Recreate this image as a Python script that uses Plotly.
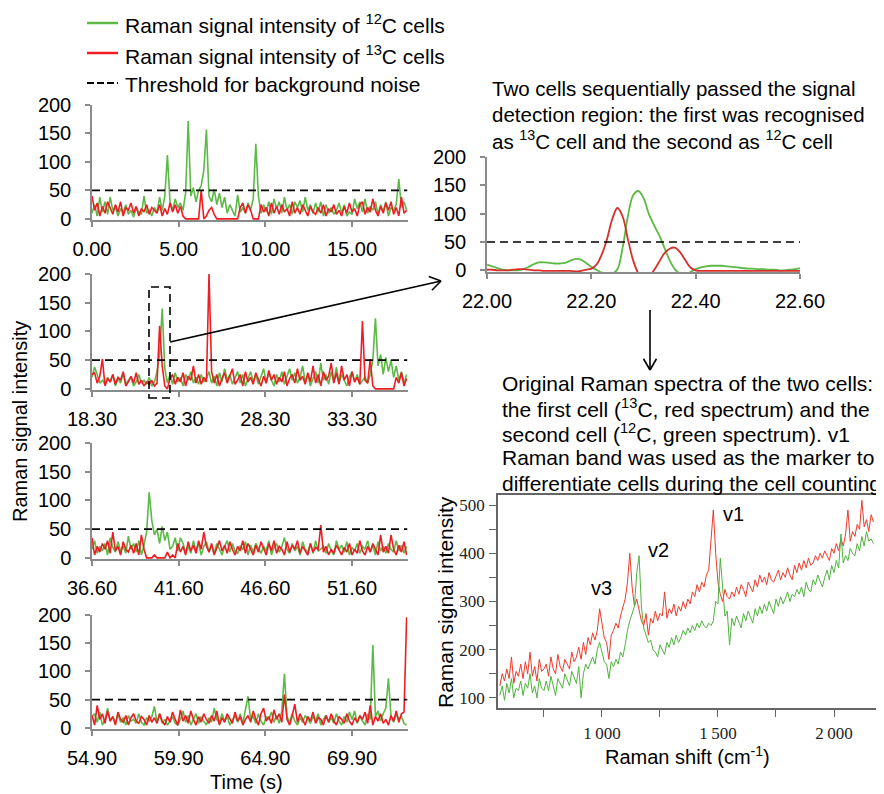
import math
import plotly.graph_objects as go

# reference canvas size and page offset (the page body adds an 8 px margin)
REF_W, REF_H = 884, 794
OFF = 8
W, H = REF_W - OFF, REF_H - OFF
FONT = "Liberation Sans, Arial, sans-serif"
SERIF = "Liberation Serif, Times New Roman, serif"
GREEN = "#5cb946"
RED = "#ee1d23"
GRAY = "#8a8a8a"

# ---------------- data ----------------
panel_starts = [0.00, 18.30, 36.60, 54.90]
sample_step = 0.15
threshold = 50

green_1 = [10,25,5,38,12,30,8,38,15,22,
           5,18,10,25,8,15,3,20,12,8,
           40,10,15,5,20,12,38,15,40,112,
           30,15,35,20,28,15,45,172,40,55,
           30,50,58,85,157,40,30,52,25,45,
           20,38,10,25,15,5,42,12,20,10,
           28,15,35,132,40,10,25,12,30,8,
           35,18,30,10,38,15,25,8,30,20,
           32,12,38,15,25,10,28,12,30,5,
           25,10,20,8,15,28,10,25,5,12,
           8,35,18,30,12,35,10,22,15,30,
           8,25,12,30,5,20,15,25,70,20,
           30,15]
red_1 = [40,15,28,5,22,10,30,18,8,25,
         12,30,5,20,15,28,10,22,5,18,
         12,25,8,20,15,10,25,5,18,8,
         28,12,25,10,22,5,0,0,0,0,
         0,0,50,0,5,15,20,8,0,0,
         0,0,0,0,0,0,0,20,28,10,
         25,15,0,0,0,25,12,20,5,28,
         10,22,8,25,12,18,5,30,10,20,
         8,25,15,5,22,12,8,20,10,25,
         5,18,12,25,8,15,5,22,10,28,
         12,18,5,25,30,8,20,12,35,15,
         5,22,10,28,15,30,8,20,5,38,
         10,15]
green_2 = [20,38,25,10,15,8,20,12,25,5,
           18,10,28,8,15,20,5,12,25,10,
           15,8,20,5,12,30,60,140,35,10,
           25,8,28,12,20,5,25,15,30,10,
           20,8,25,12,18,30,10,22,5,28,
           12,35,15,25,8,20,30,10,25,5,
           18,30,12,25,8,20,35,10,28,15,
           5,25,12,30,8,22,35,15,28,10,
           20,40,12,25,5,18,30,10,45,15,
           25,8,30,12,38,10,25,15,5,20,
           30,12,25,8,15,20,10,25,50,123,
           40,60,25,55,30,50,20,40,15,30,
           10,25]
red_2 = [25,28,10,22,52,5,18,12,25,8,
         20,15,30,5,12,22,10,28,8,15,
         5,12,8,15,5,10,110,40,5,0,
         18,25,8,20,12,28,5,22,15,40,
         10,25,8,20,12,200,30,10,25,5,
         18,28,10,22,35,8,15,25,5,30,
         12,20,8,28,15,5,22,10,32,15,
         25,8,20,12,30,5,18,25,10,35,
         15,22,8,28,12,40,10,25,5,30,
         15,22,45,10,28,8,40,15,25,5,
         30,12,20,8,118,15,10,52,5,0,
         0,0,0,0,0,0,0,20,10,28,
         5,18]
green_3 = [15,30,8,20,12,25,5,35,18,10,
           28,12,20,8,38,15,25,10,30,5,
           22,45,114,65,40,50,25,55,30,45,
           15,20,35,12,35,25,10,20,8,30,
           12,25,5,20,28,10,22,8,25,15,
           5,20,30,10,25,12,8,20,15,28,
           5,22,10,25,15,8,20,12,30,5,
           18,25,10,20,35,15,8,25,12,20,
           5,28,15,10,25,8,30,12,15,20,
           8,25,12,5,30,15,22,10,28,5,
           18,12,25,8,20,15,30,10,22,5,
           28,12,20,8,25,15,10,30,12,22,
           8,20]
red_3 = [35,5,20,10,25,15,30,8,45,12,
         20,5,28,15,10,22,8,25,5,40,
         15,0,0,0,5,0,0,0,0,10,
         0,5,0,25,10,20,5,28,12,22,
         8,30,15,45,20,10,25,5,18,30,
         12,22,8,28,15,5,20,12,30,8,
         25,15,5,22,10,28,18,5,25,12,
         30,8,20,15,5,28,10,22,15,30,
         8,20,12,5,25,10,18,15,57,10,
         20,5,15,8,22,12,5,18,10,25,
         5,15,8,30,12,5,20,10,25,15,
         5,40,10,20,8,40,15,5,22,10,
         28,5]
green_4 = [20,25,10,28,5,15,35,12,20,8,
           25,10,18,5,22,12,15,8,25,10,
           5,18,12,20,38,10,25,8,15,5,
           12,20,8,5,15,30,10,22,5,15,
           25,8,20,12,5,18,10,35,15,8,
           25,12,20,5,15,22,10,25,8,30,
           56,15,20,8,25,12,5,20,15,28,
           10,22,8,30,96,20,10,25,12,5,
           18,10,22,15,8,20,12,25,5,15,
           22,10,18,8,25,12,5,20,10,28,
           15,30,8,20,12,5,25,15,147,20,
           30,12,25,35,88,20,10,25,15,20,
           8,5]
red_4 = [22,5,40,15,25,8,30,12,20,5,
         28,15,10,22,5,18,25,12,8,20,
         15,5,22,10,18,8,25,12,5,20,
         10,28,15,5,32,12,22,8,30,15,
         5,20,10,25,15,8,22,12,30,5,
         18,10,25,15,8,28,12,20,5,15,
         22,10,30,15,5,25,35,12,20,8,
         32,15,25,10,59,15,5,22,42,10,
         25,15,5,20,12,28,8,18,15,5,
         22,10,25,12,5,20,15,8,25,12,
         5,18,10,22,15,28,8,40,5,20,
         12,25,8,15,5,22,12,30,10,25,
         28,196]

# zoomed window 22.00 - 22.60 s
zoom_start = 22.00
zoom_step = 0.01
green_zoom = [10,7,4,1,0,0,0,2,6,11,
              14,14,13,12,12,13,17,20,19,13,
              6,1,-4,-8,-6,2,40,95,132,140,
              128,100,80,62,40,18,2,-6,-8,-3,
              2,5,7,8,8,8,7,6,5,4,
              3,3,2,2,1,1,0,0,1,2,
              4]
red_zoom = [1,1,0,0,0,1,2,2,1,0,
            0,-1,-1,-1,-1,-1,-1,-2,-1,1,
            3,10,28,55,90,110,95,55,18,-5,
            -15,-12,0,15,30,38,40,32,18,5,
            0,-1,-1,-1,-1,-1,-1,-1,-1,-1,
            -1,-1,-1,-1,-1,-1,-1,-1,-1,-1,
            -1]

# Raman spectra (shift start 560 cm-1, every 10 cm-1)
shift_start = 560
shift_step = 10
spec_13C = [125,150,135,160,140,185,130,155,145,170,
            140,175,150,195,145,165,135,180,155,160,
            170,145,185,160,150,190,165,155,180,170,
            160,195,175,185,205,180,215,190,225,210,
            235,220,240,285,250,225,215,180,230,240,
            255,245,270,290,305,340,400,330,290,305,
            280,260,250,275,230,265,255,280,260,275,
            270,320,265,285,275,295,270,290,280,300,
            285,305,295,320,310,335,320,340,330,355,
            365,420,490,400,340,315,300,325,310,305,
            320,310,330,315,335,325,310,340,330,320,
            345,330,355,340,350,335,360,345,340,355,
            365,345,360,350,370,355,345,375,360,380,
            365,385,370,390,375,380,395,385,400,390,
            405,395,385,410,400,420,405,430,415,440,
            490,425,445,435,460,450,510,455,470,445,
            480,465]
spec_12C = [105,125,95,130,110,140,100,120,115,135,
            105,130,120,150,110,125,100,140,120,115,
            135,115,145,125,105,140,130,120,150,135,
            125,155,140,130,165,100,150,170,160,175,
            185,170,200,215,195,175,170,140,175,165,
            180,170,195,185,210,240,260,275,290,360,
            395,290,245,230,215,220,200,195,185,210,
            200,190,215,205,225,210,230,215,225,240,
            230,245,235,250,240,255,245,260,250,245,
            255,250,260,300,295,390,330,270,280,210,
            265,250,270,255,245,275,260,280,265,255,
            285,270,290,275,295,280,300,285,275,305,
            290,310,295,305,320,300,315,310,325,315,
            330,310,340,325,320,345,335,355,340,330,
            350,365,345,375,360,385,370,440,380,395,
            385,410,400,395,420,405,435,415,445,425,
            430,420]

band_labels = ["v3", "v2", "v1"]
band_x = [996, 1242, 1565]
band_y = [328, 407, 482]

time_tick_offsets = [0, 5, 10, 15]

# ---------------- layout helpers (reference pixel -> paper) ----------------
def px(x):
    return (x - OFF) / W

def py(y):
    return 1 - (y - OFF) / H

fig = go.Figure()

panels = [(green_1, red_1), (green_2, red_2), (green_3, red_3), (green_4, red_4)]
panel_px_y = [(105, 219), (274, 389), (443, 558), (615, 728)]
X0, X1 = 92, 407.5
span = 18.2

tick_font = dict(family=FONT, size=20, color="black")
layout_axes = {}
for k, ((g, r), t0, (ytop, ybot)) in enumerate(zip(panels, panel_starts, panel_px_y)):
    n = k + 1
    xa = "x" if n == 1 else f"x{n}"
    ya = "y" if n == 1 else f"y{n}"
    tg = [t0 + sample_step * i for i in range(len(g))]
    tr = [t0 + sample_step * i for i in range(len(r))]
    fig.add_trace(go.Scatter(x=tg, y=g, mode="lines", line=dict(color=GREEN, width=1.6),
                             xaxis=xa, yaxis=ya, hoverinfo="skip"))
    fig.add_trace(go.Scatter(x=tr, y=r, mode="lines", line=dict(color=RED, width=1.6),
                             xaxis=xa, yaxis=ya, hoverinfo="skip"))
    fig.add_trace(go.Scatter(x=[t0, t0 + span], y=[threshold, threshold], mode="lines",
                             line=dict(color="black", width=1.6, dash="8px,5px"),
                             xaxis=xa, yaxis=ya, hoverinfo="skip"))
    ticks = [t0 + o for o in time_tick_offsets]
    xname = "xaxis" if n == 1 else f"xaxis{n}"
    yname = "yaxis" if n == 1 else f"yaxis{n}"
    layout_axes[xname] = dict(domain=[px(X0), px(X1)], range=[t0, t0 + span], anchor=ya,
                              tickvals=ticks, ticktext=[f"{v:.2f}" for v in ticks],
                              showline=True, linecolor=GRAY, linewidth=1.5,
                              ticks="outside", ticklen=5, tickcolor=GRAY, tickwidth=1.5,
                              showgrid=False, zeroline=False, automargin=False,
                              tickfont=tick_font, ticklabelstandoff=5)
    layout_axes[yname] = dict(domain=[py(ybot + 1), py(ytop)], range=[-2, 200], anchor=xa,
                              tickvals=[0, 50, 100, 150, 200],
                              showline=True, linecolor=GRAY, linewidth=1.5,
                              ticks="outside", ticklen=5, tickcolor=GRAY, tickwidth=1.5,
                              showgrid=False, zeroline=False, automargin=False,
                              tickfont=tick_font, ticklabelstandoff=10)

# zoomed panel (axis 5)
tz = [zoom_start + zoom_step * i for i in range(len(green_zoom))]
fig.add_trace(go.Scatter(x=tz, y=green_zoom, mode="lines", line=dict(color=GREEN, width=1.8, shape="spline"),
                         xaxis="x5", yaxis="y5", hoverinfo="skip"))
tz2 = [zoom_start + zoom_step * i for i in range(len(red_zoom))]
fig.add_trace(go.Scatter(x=tz2, y=red_zoom, mode="lines", line=dict(color="#d7302a", width=1.8, shape="spline"),
                         xaxis="x5", yaxis="y5", hoverinfo="skip"))
fig.add_trace(go.Scatter(x=[22.0, 22.6], y=[threshold, threshold], mode="lines",
                         line=dict(color="black", width=1.5, dash="8px,5px"),
                         xaxis="x5", yaxis="y5", hoverinfo="skip"))
ztick = [22.0, 22.2, 22.4, 22.6]
layout_axes["xaxis5"] = dict(domain=[px(487), px(800)], range=[22.0, 22.6], anchor="y5",
                             tickvals=ztick, ticktext=[f"{v:.2f}" for v in ztick],
                             showline=True, linecolor=GRAY, linewidth=1.5,
                             ticks="outside", ticklen=5, tickcolor=GRAY, tickwidth=1.5,
                             showgrid=False, zeroline=False, automargin=False,
                             tickfont=tick_font, ticklabelstandoff=5)
layout_axes["yaxis5"] = dict(domain=[py(272), py(157)], range=[-3, 200], anchor="x5",
                             tickvals=[0, 50, 100, 150, 200],
                             showline=True, linecolor=GRAY, linewidth=1.5,
                             ticks="outside", ticklen=5, tickcolor=GRAY, tickwidth=1.5,
                             showgrid=False, zeroline=False, automargin=False,
                             tickfont=tick_font, ticklabelstandoff=10)

# spectra panel (axis 6)
sx1 = [shift_start + shift_step * i for i in range(len(spec_13C))]
sx2 = [shift_start + shift_step * i for i in range(len(spec_12C))]
fig.add_trace(go.Scatter(x=sx1, y=spec_13C, mode="lines", line=dict(color="#ec3b2c", width=1),
                         xaxis="x6", yaxis="y6", hoverinfo="skip"))
fig.add_trace(go.Scatter(x=sx2, y=spec_12C, mode="lines", line=dict(color="#4fb33e", width=1),
                         xaxis="x6", yaxis="y6", hoverinfo="skip"))
layout_axes["xaxis6"] = dict(domain=[px(498), px(876)], range=[552, 2181], anchor="y6",
                             tickvals=[1000, 1500, 2000],
                             ticktext=["1\u2009000", "1\u2009500", "2\u2009000"],
                             minor=dict(tickvals=[750, 1250, 1750], ticks="outside", ticklen=7,
                                        tickcolor="#666", tickwidth=1),
                             showline=True, mirror=True, linecolor="#666", linewidth=1.5,
                             ticks="outside", ticklen=7, tickcolor="#666", tickwidth=1,
                             showgrid=False, zeroline=False, automargin=False,
                             tickfont=dict(family=SERIF, size=17, color="#222"),
                             ticklabelstandoff=2)
layout_axes["yaxis6"] = dict(domain=[py(708), py(495)], range=[79, 521], anchor="x6",
                             tickvals=[100, 200, 300, 400, 500],
                             minor=dict(tickvals=[150, 250, 350, 450], ticks="outside", ticklen=7,
                                        tickcolor="#666", tickwidth=1),
                             showline=True, mirror=True, linecolor="#666", linewidth=1.5,
                             ticks="outside", ticklen=7, tickcolor="#666", tickwidth=1,
                             showgrid=False, zeroline=False, automargin=False,
                             tickfont=dict(family=SERIF, size=17, color="#222"),
                             ticklabelstandoff=1)

annotations = []
for lab, bx, by in zip(band_labels, band_x, band_y):
    annotations.append(dict(x=bx, y=by, xref="x6", yref="y6", text=lab, showarrow=False,
                            font=dict(family=FONT, size=20, color="black")))

def text(x, y, s, size=20, anchor="left", angle=0):
    annotations.append(dict(x=px(x), y=py(y), xref="paper", yref="paper", text=s,
                            showarrow=False, xanchor=anchor, yanchor="middle", textangle=angle,
                            font=dict(family=FONT, size=size, color="black")))

# legend
text(123, 24, "Raman signal intensity of <sup>12</sup>C cells", 21)
text(123, 55, "Raman signal intensity of <sup>13</sup>C cells", 21)
text(123, 85, "Threshold for background noise", 21)

# descriptive texts
upper = ["Two cells sequentially passed the signal",
         "detection region: the first was recognised",
         "as <sup>13</sup>C cell and the second as <sup>12</sup>C cell"]
for j, s in enumerate(upper):
    text(490, 88 + 26 * j, s, 20.5)
lower = ["Original Raman spectra of the two cells:",
         "the first cell (<sup>13</sup>C, red spectrum) and the",
         "second cell (<sup>12</sup>C, green spectrum). v1",
         "Raman band was used as the marker to",
         "differentiate cells during the cell counting"]
for j, s in enumerate(lower):
    text(500, 383 + 25 * j, s, 21)

# axis titles
text(20, 422, "Raman signal intensity", 20, anchor="center", angle=-90)
text(246, 782, "Time (s)", 20, anchor="center")
text(445, 602, "Raman signal intensity", 21, anchor="center", angle=-90)
text(687, 755, "Raman shift (cm<sup>-1</sup>)", 20, anchor="center")

shapes = []
def pline(x0, y0, x1, y1, color="black", width=1.6, dash=None):
    d = dict(type="line", xref="paper", yref="paper", x0=px(x0), y0=py(y0), x1=px(x1), y1=py(y1),
             line=dict(color=color, width=width))
    if dash:
        d["line"]["dash"] = dash
    shapes.append(d)

# legend keys
pline(87, 23, 118, 23, GREEN, 2.5)
pline(87, 53, 118, 53, RED, 2.5)
pline(87, 83, 118, 83, "black", 2.2, "7px,3px")

# dashed selection box
shapes.append(dict(type="rect", xref="paper", yref="paper", x0=px(149), x1=px(170), y0=py(398), y1=py(287),
                   line=dict(color="black", width=1.6, dash="8px,5px")))

def arrow(x0, y0, x1, y1, head=13, ang=33):
    pline(x0, y0, x1, y1, "black", 1.6)
    dx, dy = x1 - x0, y1 - y0
    L = math.hypot(dx, dy)
    bx, by = -dx / L, -dy / L
    for s in (1, -1):
        a = math.radians(ang) * s
        rx = bx * math.cos(a) - by * math.sin(a)
        ry = bx * math.sin(a) + by * math.cos(a)
        pline(x1, y1, x1 + head * rx, y1 + head * ry, "black", 1.6)

arrow(170, 342, 441, 281)
arrow(650, 310, 650, 370, head=13, ang=30)

fig.update_layout(width=W, height=H, margin=dict(l=0, r=0, t=0, b=0, autoexpand=False),
                  paper_bgcolor="white", plot_bgcolor="white", showlegend=False,
                  annotations=annotations, shapes=shapes, **layout_axes)

fig.write_html("out.html")
